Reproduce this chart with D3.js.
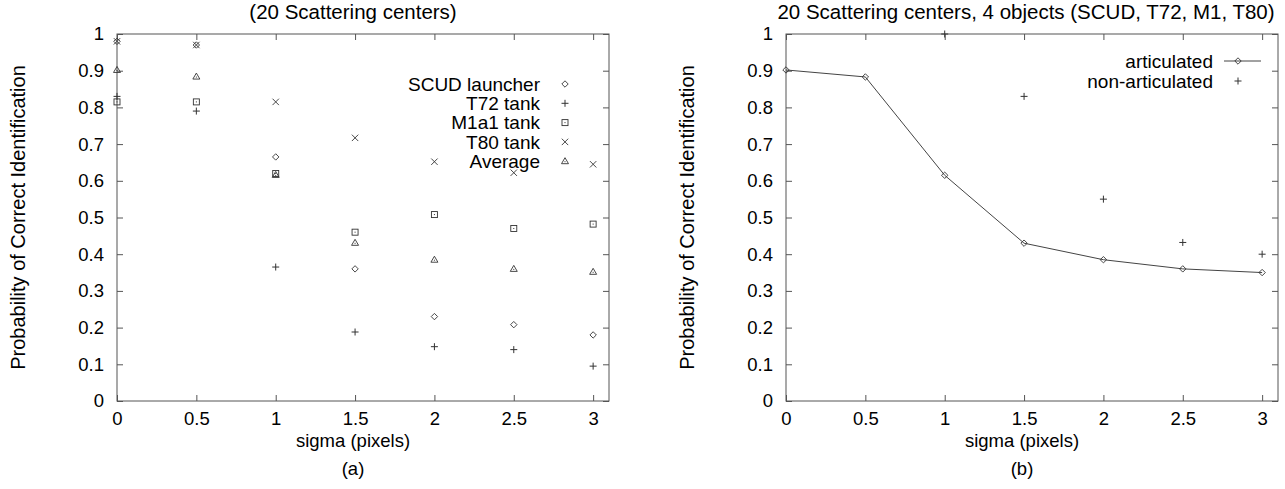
<!DOCTYPE html>
<html lang="en">
<head>
    <meta charset="UTF-8">
    <title>Probability of Correct Identification vs sigma</title>
    <script src="https://d3js.org/d3.v7.min.js"></script>
    <style>
        body {
            margin: 0;
            padding: 0;
            background: #fff;
            font-family: "Liberation Sans", Arial, sans-serif;
        }
        .tick text {
            font-size: 18.5px;
            fill: #000;
        }
        .tick line {
            stroke: #555;
        }
    </style>
</head>
<body>
    <svg width="1285" height="489"></svg>

    <script>
        // sigma values (pixels)
        const sigma = [0, 0.5, 1, 1.5, 2, 2.5, 3];

        // panel (a): per-object probabilities
        const scud = [0.98, 0.97, 0.665, 0.36, 0.23, 0.208, 0.18];
        const t72 = [0.83, 0.79, 0.365, 0.188, 0.148, 0.14, 0.095];
        const m1a1 = [0.815, 0.815, 0.62, 0.46, 0.508, 0.47, 0.482];
        const t80 = [0.98, 0.97, 0.815, 0.717, 0.652, 0.622, 0.645];
        const average = [0.902, 0.884, 0.616, 0.431, 0.385, 0.36, 0.352];

        // panel (b)
        const articulated = [0.902, 0.883, 0.615, 0.43, 0.385, 0.36, 0.35];
        const nonArtSigma = [1, 1.5, 2, 2.5, 3];
        const nonArticulated = [1.0, 0.83, 0.55, 0.432, 0.4];

        const xTicks = [0, 0.5, 1, 1.5, 2, 2.5, 3];
        const yTicks = [0, 0.1, 0.2, 0.3, 0.4, 0.5, 0.6, 0.7, 0.8, 0.9, 1];

        const svg = d3.select("svg");
        const markColor = "#333";
        const fs = 18.5;

        // small gnuplot-like point shapes
        function drawMark(g, type, x, y) {
            const s = 3.2;
            if (type === "diamond") {
                g.append("path")
                    .attr("d", `M${x},${y - s}L${x + s},${y}L${x},${y + s}L${x - s},${y}Z`)
                    .attr("fill", "none").attr("stroke", markColor).attr("stroke-width", 0.9);
            } else if (type === "plus") {
                g.append("path")
                    .attr("d", `M${x - 3.5},${y}H${x + 3.5}M${x},${y - 3.5}V${y + 3.5}`)
                    .attr("stroke", markColor).attr("stroke-width", 1);
            } else if (type === "square") {
                g.append("rect")
                    .attr("x", x - 3).attr("y", y - 3).attr("width", 6).attr("height", 6)
                    .attr("fill", "none").attr("stroke", markColor).attr("stroke-width", 0.9);
                g.append("rect")
                    .attr("x", x - 0.5).attr("y", y - 0.5).attr("width", 1).attr("height", 1)
                    .attr("fill", markColor);
            } else if (type === "cross") {
                g.append("path")
                    .attr("d", `M${x - 3.2},${y - 3.2}L${x + 3.2},${y + 3.2}M${x - 3.2},${y + 3.2}L${x + 3.2},${y - 3.2}`)
                    .attr("stroke", markColor).attr("stroke-width", 0.9);
            } else if (type === "triangle") {
                g.append("path")
                    .attr("d", `M${x},${y - 3.5}L${x + 3.5},${y + 2.5}L${x - 3.5},${y + 2.5}Z`)
                    .attr("fill", "none").attr("stroke", markColor).attr("stroke-width", 0.9);
                g.append("rect")
                    .attr("x", x - 0.5).attr("y", y).attr("width", 1).attr("height", 1)
                    .attr("fill", markColor);
            }
        }

        function makePanel(left, title, caption, titleShift) {
            const top = 34, bottom = 401;
            const width = 492, height = bottom - top;

            const g = svg.append("g").attr("transform", `translate(${left},${top})`);

            const x = d3.scaleLinear().domain([0, 3.1]).range([0, width]);
            const y = d3.scaleLinear().domain([0, 1]).range([height, 0]);

            // axes with ticks pointing inward, mirrored on top/right
            g.append("g").attr("transform", `translate(0,${height})`)
                .call(d3.axisBottom(x).tickValues(xTicks).tickSize(-6).tickPadding(11)
                    .tickFormat(d3.format("")));
            g.append("g")
                .call(d3.axisTop(x).tickValues(xTicks).tickSize(-6).tickFormat(""));
            g.append("g")
                .call(d3.axisLeft(y).tickValues(yTicks).tickSize(-6).tickPadding(13)
                    .tickFormat(d3.format("")));
            g.append("g").attr("transform", `translate(${width},0)`)
                .call(d3.axisRight(y).tickValues(yTicks).tickSize(-6).tickFormat(""));
            g.selectAll(".domain").remove();
            g.selectAll(".tick text").attr("font-family", "Liberation Sans, Arial, sans-serif");

            g.append("rect")
                .attr("width", width).attr("height", height)
                .attr("fill", "none").attr("stroke", "#555").attr("stroke-width", 1);

            // titles and labels
            svg.append("text")
                .attr("x", left + width / 2 - 10 + titleShift).attr("y", 19)
                .attr("text-anchor", "middle").attr("font-size", 20.5)
                .text(title);
            svg.append("text")
                .attr("x", left + width / 2 - 10).attr("y", 447)
                .attr("text-anchor", "middle").attr("font-size", fs)
                .text("sigma (pixels)");
            svg.append("text")
                .attr("x", left + width / 2 - 10).attr("y", 475)
                .attr("text-anchor", "middle").attr("font-size", fs)
                .text(caption);
            svg.append("text")
                .attr("transform", `translate(${left - 92},${top + height / 2}) rotate(-90)`)
                .attr("text-anchor", "middle").attr("font-size", 20)
                .text("Probability of Correct Identification");

            return { g, x, y };
        }

        // ---- panel (a)
        const a = makePanel(117, "(20 Scattering centers)", "(a)", 0);
        const seriesA = [
            { name: "SCUD launcher", values: scud, mark: "diamond" },
            { name: "T72 tank", values: t72, mark: "plus" },
            { name: "M1a1 tank", values: m1a1, mark: "square" },
            { name: "T80 tank", values: t80, mark: "cross" },
            { name: "Average", values: average, mark: "triangle" }
        ];
        seriesA.forEach(function(s, i) {
            s.values.forEach(function(v, j) {
                drawMark(a.g, s.mark, a.x(sigma[j]), a.y(v));
            });
            const ly = 50 + i * 19.3;
            a.g.append("text")
                .attr("x", 423).attr("y", ly).attr("dy", "0.35em")
                .attr("text-anchor", "end").attr("font-size", 19)
                .text(s.name);
            drawMark(a.g, s.mark, 448, ly);
        });

        // ---- panel (b)
        const b = makePanel(786, "20 Scattering centers, 4 objects (SCUD, T72, M1, T80)", "(b)", 4);
        const line = d3.line()
            .x((d, i) => b.x(sigma[i]))
            .y(d => b.y(d));
        b.g.append("path")
            .datum(articulated)
            .attr("d", line)
            .attr("fill", "none").attr("stroke", "#444").attr("stroke-width", 1);
        articulated.forEach(function(v, i) {
            drawMark(b.g, "diamond", b.x(sigma[i]), b.y(v));
        });
        nonArticulated.forEach(function(v, i) {
            drawMark(b.g, "plus", b.x(nonArtSigma[i]), b.y(v));
        });

        b.g.append("text")
            .attr("x", 427).attr("y", 27).attr("dy", "0.35em")
            .attr("text-anchor", "end").attr("font-size", 19)
            .text("articulated");
        b.g.append("line")
            .attr("x1", 438).attr("x2", 475).attr("y1", 27).attr("y2", 27)
            .attr("stroke", "#444").attr("stroke-width", 1);
        drawMark(b.g, "diamond", 452, 27);
        b.g.append("text")
            .attr("x", 427).attr("y", 47).attr("dy", "0.35em")
            .attr("text-anchor", "end").attr("font-size", 19)
            .text("non-articulated");
        drawMark(b.g, "plus", 452, 47);
    </script>
</body>
</html>
